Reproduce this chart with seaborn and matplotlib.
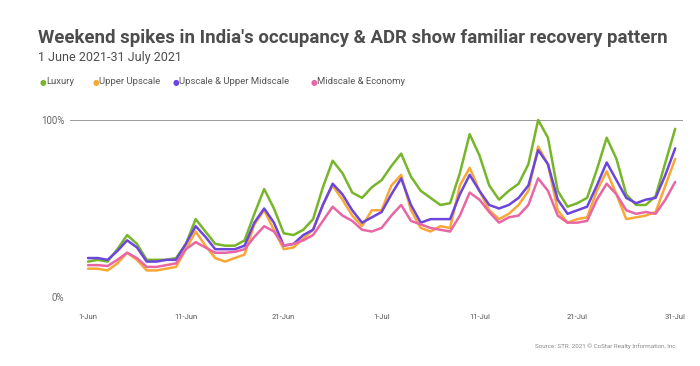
import pandas as pd
import seaborn as sns
import matplotlib.pyplot as plt

# daily occupancy index, 1 June (day 0) to 31 July (day 60)
luxury = [20, 21, 20, 27, 35, 30, 21, 21, 21, 22,
          30, 44, 37, 30, 29, 29, 32, 47, 61, 50,
          36, 35, 38, 44, 62, 77, 70, 59, 56, 62,
          66, 74, 81, 68, 60, 56, 52, 53, 70, 92,
          80, 63, 55, 60, 64, 75, 100, 90, 60, 51,
          53, 56, 72, 90, 78, 58, 52, 52, 57, 76, 95]
upper_upscale = [16, 16, 15, 19, 25, 21, 15, 15, 16, 17,
                 27, 37, 29, 22, 20, 22, 24, 41, 49, 38,
                 27, 28, 33, 38, 52, 63, 55, 46, 40, 49,
                 49, 63, 69, 49, 39, 37, 40, 39, 63, 73,
                 60, 49, 44, 47, 52, 60, 85, 75, 49, 42,
                 44, 45, 60, 71, 58, 44, 45, 46, 48, 63, 78]
upscale_upper_mid = [22, 22, 21, 26, 32, 28, 20, 20, 21, 21,
                     30, 40, 34, 27, 27, 27, 29, 42, 50, 42,
                     29, 30, 35, 38, 52, 64, 58, 49, 42, 45,
                     48, 58, 67, 52, 42, 44, 44, 44, 58, 69,
                     60, 52, 50, 52, 56, 63, 83, 75, 55, 47,
                     49, 51, 63, 76, 66, 56, 53, 55, 56, 69, 84]
midscale_economy = [18, 18, 17.5, 21, 25, 22, 17, 17, 18, 19,
                    27, 31, 28, 25, 25, 25.5, 27, 34, 40, 37,
                    29, 30, 32, 35, 43, 51, 46, 43, 38, 37,
                    39, 46, 52, 43, 41, 39, 38, 37, 46, 59,
                    55, 48, 42, 45, 46, 52, 67, 60, 46, 42,
                    42, 43, 55, 64, 58, 49, 47, 48, 47, 55, 65]

segments = ['Luxury', 'Upper Upscale', 'Upscale & Upper Midscale', 'Midscale & Economy']
colors = ['#77b52a', '#f7a836', '#6c46dc', '#e866a3']
tick_days = [0, 10, 20, 30, 40, 50, 60]
tick_labels = ['1-Jun', '11-Jun', '21-Jun', '1-Jul', '11-Jul', '21-Jul', '31-Jul']

frames = []
for name, vals in zip(segments, [luxury, upper_upscale, upscale_upper_mid, midscale_economy]):
    frames.append(pd.DataFrame({'day': range(len(vals)), 'occ': vals, 'segment': name}))
data = pd.concat(frames, ignore_index=True)

sns.set_style('white')
plt.rcParams['font.family'] = ['Roboto', 'DejaVu Sans']

fig = plt.figure(figsize=(7, 3.66), dpi=100)
ax = fig.add_axes([0.1, 1 - 297 / 366, 0.876, (297 - 120) / 366])

ax.axhline(100, color='#9a9a9a', lw=1.4, zorder=1)
sns.lineplot(data=data, x='day', y='occ', hue='segment', hue_order=segments,
             palette=colors, lw=1.8, legend=False, ax=ax, zorder=3)
for ln in ax.lines[1:]:
    ln.set_clip_on(False)
    ln.set_solid_joinstyle('round')

ax.set_xlim(-1.84, 60.82)
ax.set_ylim(0, 100)
ax.set_yticks([0, 100])
ax.set_yticklabels(['0%', '100%'], fontsize=7, color='#666666')
ax.set_xticks(tick_days)
ax.set_xticklabels(tick_labels, fontsize=5.5, color='#555555')
ax.tick_params(axis='y', length=0, pad=4)
ax.tick_params(axis='x', length=0, pad=12)
ax.set_xlabel('')
ax.set_ylabel('')
sns.despine(ax=ax, left=True, bottom=True)

fig.text(38 / 700, 1 - 38 / 366, "Weekend spikes in India's occupancy & ADR show familiar recovery pattern",
         fontsize=13.4, fontweight='bold', color='#4d4d4d', va='center', ha='left')
fig.text(38 / 700, 1 - 58 / 366, '1 June 2021-31 July 2021',
         fontsize=9, color='#4d4d4d', va='center', ha='left')

legend_x = [40, 93, 173, 311]
for lx, name, c in zip(legend_x, segments, colors):
    fig.text(lx / 700, 1 - 82 / 366, '\u25cf', fontsize=5.5, color=c, va='center', ha='left',
             family=['DejaVu Sans'])
    fig.text((lx + 6) / 700, 1 - 82 / 366, name, fontsize=6.8, color='#555555', va='center', ha='left')

fig.text(677 / 700, 1 - 346 / 366, 'Source: STR. 2021 \u00a9 CoStar Realty Information, Inc.',
         fontsize=4.5, color='#888888', va='center', ha='right')

fig.savefig('out.png', dpi=100)
